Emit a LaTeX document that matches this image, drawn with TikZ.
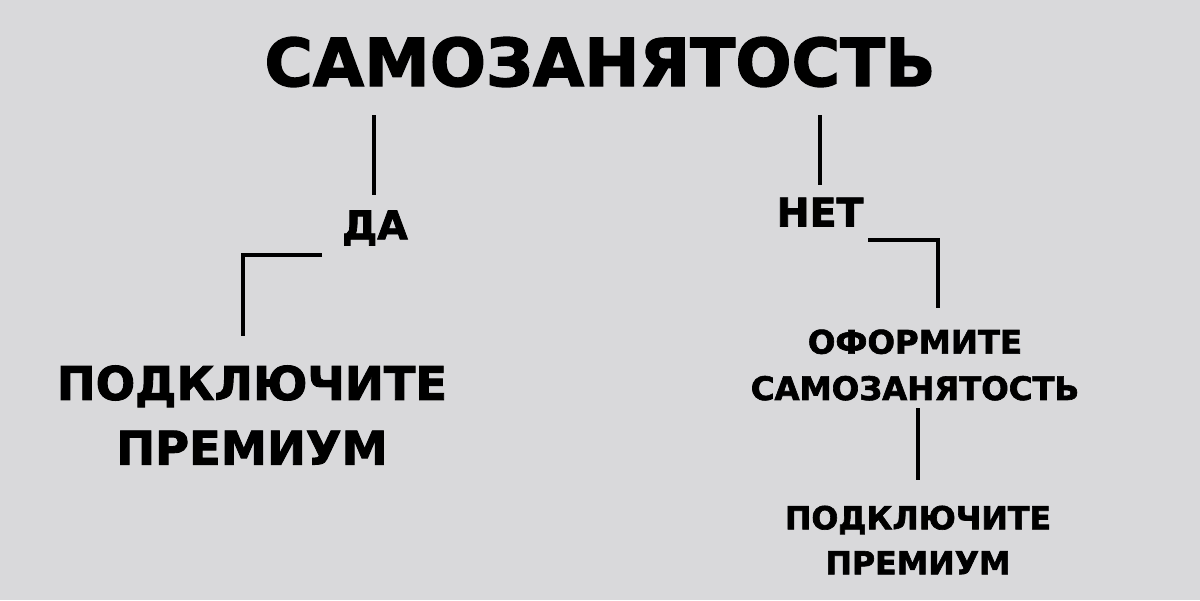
\documentclass[tikz,border=0pt]{standalone}
\usepackage{fontspec}
\setmainfont{DejaVu Sans}[BoldFeatures={FakeBold=2}]
\definecolor{bg}{HTML}{D9D9DB}
\begin{document}
\begin{tikzpicture}[x=0.025cm, y=-0.025cm,
  lbl/.style = {font=\bfseries, inner sep=0, align=center},
  link/.style = {line width=2.4pt, black}
]
\fill[bg] (0,0) rectangle (1200,600);
\node[lbl, font=\bfseries\fontsize{47}{50}\selectfont] (title) at (600,62) {САМОЗАНЯТОСТЬ};
\node[lbl, font=\bfseries\fontsize{28}{30}\selectfont] (da) at (375,228) {ДА};
\node[lbl, font=\bfseries\fontsize{28}{30}\selectfont] (net) at (820,212) {НЕТ};
\node[lbl, font=\bfseries\fontsize{33}{46}\selectfont] (premL) at (252,415) {ПОДКЛЮЧИТЕ\\ПРЕМИУМ};
\node[lbl, font=\bfseries\fontsize{23}{33}\selectfont] (oform) at (915,365) {ОФОРМИТЕ\\САМОЗАНЯТОСТЬ};
\node[lbl, font=\bfseries\fontsize{22.5}{32}\selectfont] (premR) at (918,540) {ПОДКЛЮЧИТЕ\\ПРЕМИУМ};
% connectors
\coordinate (a1) at (374,115); \coordinate (a2) at (374,195);
\coordinate (b1) at (322,255); \coordinate (b2) at (243,336);
\coordinate (c1) at (820,115); \coordinate (c2) at (820,185);
\coordinate (d1) at (868,240); \coordinate (d2) at (938,308);
\coordinate (e1) at (918,408); \coordinate (e2) at (918,480);
\draw[link] (a1) -- (a2);
\draw[link] (b1) -| (b2);
\draw[link] (c1) -- (c2);
\draw[link] (d1) -| (d2);
\draw[link] (e1) -- (e2);
\end{tikzpicture}
\end{document}
